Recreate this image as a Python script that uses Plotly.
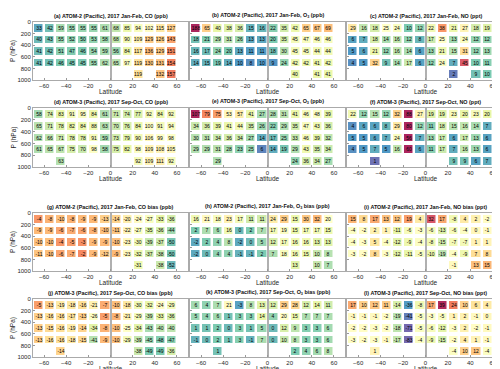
import plotly.graph_objects as go

lat = [-65, -55, -45, -35, -25, -15, -5, 5, 15, 25, 35, 45, 55]
pres = [100, 300, 500, 700, 900]
N = None

co_jf = [[33, 42, 59, 55, 55, 55, 61, 68, 85, 94, 102, 115, 127],
         [40, 43, 55, 52, 50, 53, 58, 68, 90, 109, 129, 126, 143],
         [41, 42, 51, 47, 46, 54, 59, 56, 84, 117, 136, 129, 151],
         [41, 42, 46, 45, 45, 55, 62, 65, 97, 119, 130, 131, 154],
         [N, N, N, N, N, N, N, N, N, 119, N, 132, 157]]
o3_jf = [[188, 65, 40, 38, 36, 15, 16, 22, 35, 42, 65, 67, 69],
         [18, 21, 29, 31, 26, 13, 13, 20, 35, 45, 47, 46, 46],
         [16, 17, 24, 20, 13, 11, 11, 18, 30, 45, 45, 44, 44],
         [14, 15, 19, 14, 10, 8, 10, 9, 24, 42, 42, 41, 42],
         [N, N, N, N, N, N, N, N, N, 40, N, 41, 41]]
no_jf = [[29, 16, 18, 25, 24, 10, 12, 22, 38, 21, 27, 18, 19],
         [6, 7, 18, 14, 16, 12, 8, 17, 25, 13, 24, 12, 12],
         [5, 6, 21, 12, 16, 14, 6, 13, 21, 15, 31, 12, 13],
         [4, 5, 32, 9, 14, 17, 6, 12, 24, 7, 45, 10, 11],
         [N, N, N, N, N, N, N, N, N, 2, N, 9, 10]]
co_so = [[58, 74, 83, 91, 95, 84, 61, 71, 74, 77, 92, 84, 92],
         [65, 71, 78, 82, 84, 88, 63, 70, 76, 84, 100, 91, 94],
         [62, 66, 71, 78, 78, 91, 59, 73, 79, 90, 106, 99, 98],
         [61, 65, 67, 75, 70, 98, 58, 75, 82, 98, 109, 108, 105],
         [N, N, 63, N, N, N, N, N, N, 92, 109, 111, 92]]
o3_so = [[107, 79, 75, 53, 57, 41, 27, 28, 31, 41, 46, 48, 39],
         [34, 36, 39, 41, 44, 35, 26, 22, 29, 35, 47, 43, 36],
         [30, 31, 34, 36, 34, 27, 14, 17, 25, 33, 46, 39, 32],
         [29, 29, 31, 28, 23, 25, 6, 14, 19, 29, 43, 35, 34],
         [N, N, 29, N, N, N, N, N, N, 24, 36, 34, 27]]
no_so = [[22, 12, 15, 12, 32, 88, 27, 19, 19, 23, 20, 23, 20],
         [4, 6, 6, 8, 29, 80, 12, 11, 18, 15, 16, 14, 7],
         [5, 5, 6, 7, 24, 56, 7, 13, 17, 6, 17, 13, 6],
         [4, 5, 7, 5, 16, 60, 6, 11, 17, 7, 16, 13, 6],
         [N, N, 1, N, N, N, N, N, N, 9, 9, 6, 7]]
cob_jf = [[-4, -8, -10, -8, -9, -9, -13, -14, -20, -24, -27, -33, -36],
          [-9, -9, -6, -7, -6, -8, -10, -11, -22, -27, -35, -36, -44],
          [-10, -10, -4, -5, -3, -9, -9, -10, -23, -30, -39, -37, -50],
          [-11, -10, -6, -7, -2, -9, -12, -9, -23, -32, -37, -38, -50],
          [N, N, N, N, N, N, N, N, N, -31, N, -38, -52]]
o3b_jf = [[16, 21, 18, 23, 17, 11, 11, 24, 29, 15, 30, 32, 20],
          [2, 7, 6, 16, 0, 2, 7, 17, 19, 15, 17, 17, 15],
          [-2, 2, 4, 8, -2, 0, 5, 12, 17, 16, 16, 13, 13],
          [-2, 0, 4, 4, -1, -1, 2, 7, 18, 16, 15, 10, 8],
          [N, N, N, N, N, N, N, N, N, 13, N, 10, 7]]
nob_jf = [[15, 8, 17, 13, 12, 19, 4, 32, 17, -8, 4, 2, -2],
          [-4, -2, 2, 1, -11, -6, -3, -6, -13, -6, -4, 0, -1],
          [-4, -3, 5, -4, -12, -9, -4, -8, -15, -7, -7, 1, 1],
          [-3, -2, 8, -3, -12, -11, -5, -10, -19, -4, -9, 7, 8],
          [N, N, N, N, N, N, N, N, N, -1, N, 13, 15]]
cob_so = [[-5, -13, -19, -18, -16, -21, -7, -10, -18, -30, -32, -24, -29],
          [-13, -16, -16, -17, -13, -26, -5, -8, -21, -29, -39, -33, -36],
          [-13, -15, -16, -19, -14, -34, -8, -10, -25, -34, -43, -40, -40],
          [-13, -16, -16, -18, -15, -41, -9, -10, -29, -39, -45, -48, -47],
          [N, N, -14, N, N, N, N, N, N, -38, -49, -49, -36]]
o3b_so = [[6, 4, 7, 21, -3, 8, 13, 12, 29, 28, 12, 14, 11],
          [5, 4, 6, 1, 3, 3, 14, 4, 20, 15, 7, 7, 7],
          [1, 1, 2, 0, 3, 1, 5, 0, 12, 9, 3, 3, 6],
          [-1, 0, 2, 1, 3, -1, 7, 0, 10, 8, 3, 3, 6],
          [N, N, 1, N, N, N, N, N, N, 2, 4, 6, 8]]
nob_so = [[17, 10, 12, 11, -14, -36, -8, 17, 39, 24, 10, 6, 4],
          [-1, -1, -1, -2, -19, -41, -5, -3, -5, 1, 2, -1, 0],
          [-2, -2, -3, -2, -18, -71, -5, -6, -12, -3, 2, -2, -1],
          [-3, -2, -3, -1, -17, -83, -4, -9, -15, -2, 4, 1, -1],
          [N, N, 1, N, N, N, N, N, N, -4, 10, 12, -4]]

panels = [
    (co_jf, "(a) ATOM-2 (Pacific), 2017 Jan-Feb, CO (ppb)", 10, 190),
    (o3_jf, "(b) ATOM-2 (Pacific), 2017 Jan-Feb, O<sub>3</sub> (ppb)", 0, 100),
    (no_jf, "(c) ATOM-2 (Pacific), 2017 Jan-Feb, NO (ppt)", 0, 50),
    (co_so, "(d) ATOM-3 (Pacific), 2017 Sep-Oct, CO (ppb)", 10, 190),
    (o3_so, "(e) ATOM-3 (Pacific), 2017 Sep-Oct, O<sub>3</sub> (ppb)", 0, 100),
    (no_so, "(f) ATOM-3 (Pacific), 2017 Sep-Oct, NO (ppt)", 0, 50),
    (cob_jf, "(g) ATOM-2 (Pacific), 2017 Jan-Feb, CO bias (ppb)", -65, 15),
    (o3b_jf, "(h) ATOM-2 (Pacific), 2017 Jan-Feb, O<sub>3</sub> bias (ppb)", -10, 50),
    (nob_jf, "(i) ATOM-2 (Pacific), 2017 Jan-Feb, NO bias (ppt)", -45, 40),
    (cob_so, "(j) ATOM-3 (Pacific), 2017 Sep-Oct, CO bias (ppb)", -65, 15),
    (o3b_so, "(k) ATOM-3 (Pacific), 2017 Sep-Oct, O<sub>3</sub> bias (ppb)", -10, 50),
    (nob_so, "(l) ATOM-3 (Pacific), 2017 Sep-Oct, NO bias (ppt)", -45, 40),
]

W, H = 500, 369
cols_px = [(25, 180), (182, 337), (339, 496)]
rows_px = [(14, 72), (100, 159), (205, 263), (291, 349)]
FONT = "Arial, Liberation Sans, sans-serif"
GREY = "#262626"

fig = go.Figure()
layout = {}
annotations = []
for i, (z, title, zmin, zmax) in enumerate(panels):
    r, c = divmod(i, 3)
    n = "" if i == 0 else str(i + 1)
    x0, x1 = cols_px[c]
    y0, y1 = rows_px[r]
    txt = [["" if v is None else str(v) for v in row] for row in z]
    fig.add_trace(go.Heatmap(
        x=lat, y=pres, z=z, text=txt, texttemplate="%{text}",
        textfont=dict(size=5, color="black", family=FONT),
        colorscale="Spectral_r", zmin=zmin, zmax=zmax, showscale=False,
        xgap=2.5, ygap=4, opacity=0.85, hoverongaps=False,
        xaxis="x" + n, yaxis="y" + n))
    layout["xaxis" + n] = dict(
        domain=[x0 / W, x1 / W], range=[-70, 70], anchor="y" + n,
        tickvals=[-60, -40, -20, 0, 20, 40, 60], ticks="inside", ticklen=2,
        tickcolor="#999", showline=True, mirror=True, linecolor="#aaa",
        showgrid=False, zeroline=True, zerolinecolor="#b0b0b0", zerolinewidth=1.5,
        tickfont=dict(size=6, color=GREY, family=FONT))
    layout["yaxis" + n] = dict(
        domain=[1 - y1 / H, 1 - y0 / H], range=[1000, 0], anchor="x" + n,
        tickvals=[0, 200, 400, 600, 800, 1000], ticks="inside", ticklen=2,
        tickcolor="#999", showline=True, mirror=True, linecolor="#aaa",
        showgrid=False, zeroline=False, showticklabels=(c == 0),
        tickfont=dict(size=6, color=GREY, family=FONT))
    annotations.append(dict(
        text="<b>" + title + "</b>", x=(x0 + x1) / 2 / W, y=1 - (y0 - 1) / H,
        xref="paper", yref="paper", xanchor="center", yanchor="bottom",
        showarrow=False, font=dict(size=5.4, color="#111", family=FONT)))
    annotations.append(dict(
        text="Latitude", x=(x0 + x1) / 2 / W, y=1 - (y1 + 11) / H,
        xref="paper", yref="paper", xanchor="center", yanchor="middle",
        showarrow=False, font=dict(size=6.5, color=GREY, family=FONT)))
    if c == 0:
        annotations.append(dict(
            text="P (hPa)", x=5 / W, y=1 - (y0 + y1) / 2 / H, textangle=-90,
            xref="paper", yref="paper", xanchor="center", yanchor="middle",
            showarrow=False, font=dict(size=6.5, color=GREY, family=FONT)))

fig.update_layout(**layout)
fig.update_layout(
    template="none", width=W, height=H, margin=dict(l=0, r=0, t=0, b=0),
    paper_bgcolor="white", plot_bgcolor="white",
    annotations=annotations, showlegend=False)
fig.write_html("out.html")
